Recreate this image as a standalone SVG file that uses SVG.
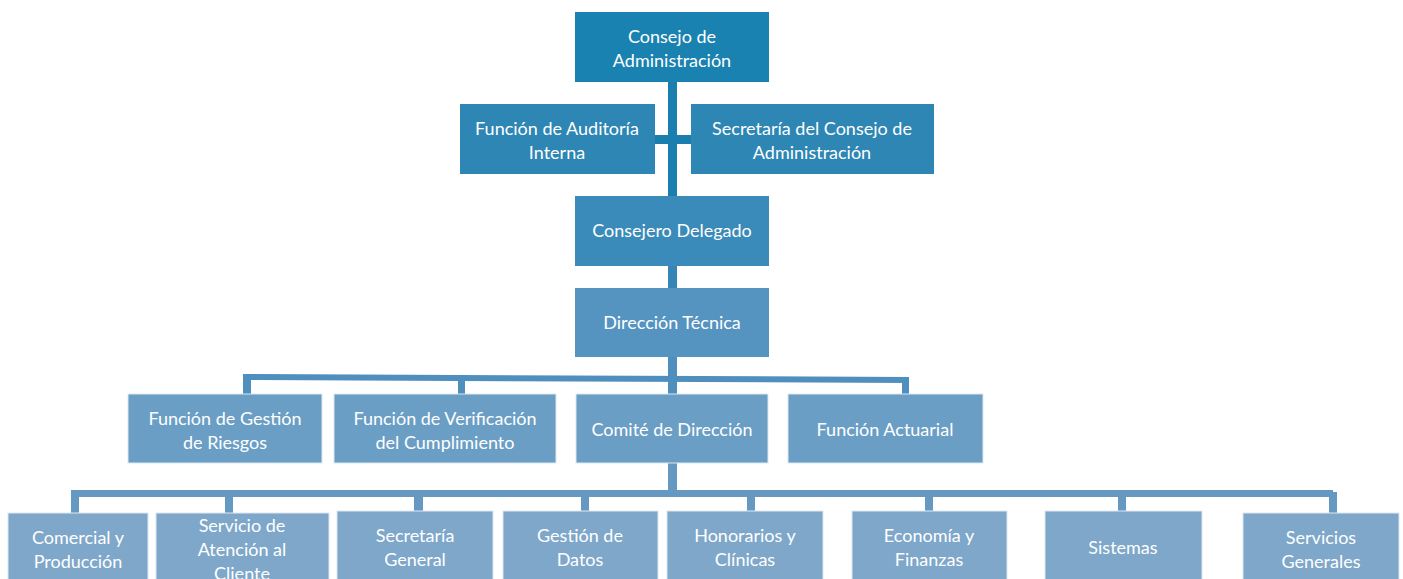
<svg xmlns="http://www.w3.org/2000/svg" width="1403" height="579" viewBox="0 0 1403 579">
<style>
text{font-family:Lato,"Open Sans","Liberation Sans",sans-serif;font-size:18px;fill:#ffffff;text-anchor:middle}
.b{stroke:#dde8f1;stroke-width:1}
.c1{fill:#1a82b0}
.c2{fill:#2d86b3}
.c3{fill:#3a8aba}
.c4{fill:#5594c1}
.c5{fill:#6a9ec5}
.c6{fill:#7ea7ca}
</style>
<rect width="1403" height="579" fill="#ffffff"/>
<g id="connectors">
<rect x="668" y="80" width="9" height="118" fill="#1a7fae"/>
<rect x="655" y="135" width="38" height="9" fill="#1a7fae"/>
<rect x="668" y="265" width="9" height="24" fill="#3585b6"/>
<rect x="668" y="356" width="9" height="39" fill="#4e8fbe"/>
<polygon points="243,374 909,377 909,383 243,380" fill="#4e8fbe"/>
<rect x="243" y="376" width="8" height="19" fill="#4e8fbe"/>
<rect x="458" y="376" width="7" height="19" fill="#4e8fbe"/>
<rect x="902" y="377" width="7" height="18" fill="#4e8fbe"/>
<rect x="668" y="462" width="9" height="30" fill="#6599c2"/>
<rect x="71" y="490" width="1262" height="7" fill="#6599c2"/>
<rect x="71" y="490" width="8" height="24" fill="#6599c2"/>
<rect x="225" y="490" width="8" height="24" fill="#6599c2"/>
<rect x="414" y="493" width="9" height="19" fill="#6599c2"/>
<rect x="581" y="493" width="8" height="19" fill="#6599c2"/>
<rect x="747" y="492" width="8" height="20" fill="#6599c2"/>
<rect x="925" y="493" width="8" height="19" fill="#6599c2"/>
<rect x="1118" y="495" width="8" height="17" fill="#6599c2"/>
<rect x="1329" y="492" width="8" height="22" fill="#6599c2"/>
</g>
<g id="n-consejo"><rect class="c1" x="575" y="12" width="194" height="70"/><text x="672" y="43">Consejo de</text><text x="672" y="67">Administración</text></g>
<g id="n-auditoria"><rect class="c2" x="460" y="104" width="195" height="70"/><text x="557" y="135">Función de Auditoría</text><text x="557" y="159">Interna</text></g>
<g id="n-secretaria-consejo"><rect class="c2" x="691" y="104" width="243" height="70"/><text x="812" y="135">Secretaría del Consejo de</text><text x="812" y="159">Administración</text></g>
<g id="n-consejero"><rect class="c3" x="575" y="196" width="194" height="70"/><text x="672" y="237">Consejero Delegado</text></g>
<g id="n-direccion-tecnica"><rect class="c4" x="575" y="288" width="194" height="69"/><text x="672" y="329">Dirección Técnica</text></g>
<g id="n-riesgos"><rect class="c5 b" x="128" y="394" width="194" height="69"/><text x="225" y="425">Función de Gestión</text><text x="225" y="449">de Riesgos</text></g>
<g id="n-verificacion"><rect class="c5 b" x="334" y="394" width="222" height="69"/><text x="445" y="425">Función de Verificación</text><text x="445" y="449">del Cumplimiento</text></g>
<g id="n-comite"><rect class="c5 b" x="576" y="394" width="192" height="69"/><text x="672" y="436">Comité de Dirección</text></g>
<g id="n-actuarial"><rect class="c5 b" x="788" y="394" width="195" height="69"/><text x="885" y="436">Función Actuarial</text></g>
<g id="n-comercial"><rect class="c6 b" x="8" y="513" width="140" height="70"/><text x="78" y="544">Comercial y</text><text x="78" y="568">Producción</text></g>
<g id="n-sac"><rect class="c6 b" x="156" y="513" width="173" height="70"/><text x="242" y="532">Servicio de</text><text x="242" y="556">Atención al</text><text x="242" y="580">Cliente</text></g>
<g id="n-secretaria-general"><rect class="c6 b" x="337" y="511" width="156" height="72"/><text x="415" y="542">Secretaría</text><text x="415" y="566">General</text></g>
<g id="n-datos"><rect class="c6 b" x="503" y="511" width="155" height="72"/><text x="580" y="542">Gestión de</text><text x="580" y="566">Datos</text></g>
<g id="n-honorarios"><rect class="c6 b" x="667" y="511" width="156" height="72"/><text x="745" y="542">Honorarios y</text><text x="745" y="566">Clínicas</text></g>
<g id="n-economia"><rect class="c6 b" x="852" y="511" width="155" height="72"/><text x="929" y="542">Economía y</text><text x="929" y="566">Finanzas</text></g>
<g id="n-sistemas"><rect class="c6 b" x="1045" y="511" width="157" height="72"/><text x="1123" y="554">Sistemas</text></g>
<g id="n-servicios-generales"><rect class="c6 b" x="1243" y="513" width="156" height="70"/><text x="1321" y="544">Servicios</text><text x="1321" y="568">Generales</text></g>
</svg>
